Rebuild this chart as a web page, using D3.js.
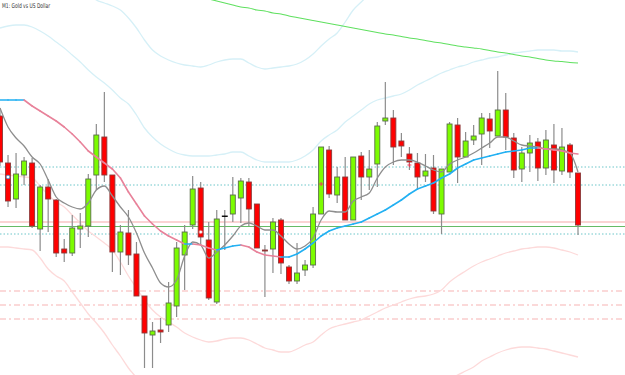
<!DOCTYPE html>
<html>
<head>
<meta charset="utf-8">
<script src="https://cdn.jsdelivr.net/npm/d3@7"></script>
<style>
body { margin: 0; background: #fff; }
svg { display: block; }
</style>
</head>
<body>
<svg id="chart" width="625" height="375"></svg>
<script>
// M1: Gold vs US Dollar - 73 one minute bars, price in chart units (bottom = 0)
var opens  = [259,212,176,200,212,146,188,175,126,122,146,149,200,238,200,123,142,121,79,40,45,50,69,120,150,187,135,73,159,161,177,193,171,125,126,155,108,94,105,110,161,225,180,198,155,219,198,211,254,257,234,221,212,199,207,161,203,250,218,235,241,256,239,265,237,206,222,233,207,230,204,230,202];
var highs  = [267,220,222,218,217,190,196,176,136,160,162,201,251,283,200,150,165,133,79,53,57,93,133,150,199,193,153,165,165,198,197,197,171,130,157,157,110,132,115,168,228,229,208,218,218,223,225,253,293,265,242,228,222,221,220,206,253,257,243,250,262,262,304,282,242,228,240,237,245,251,247,232,202];
var lows   = [209,168,167,190,147,124,143,118,113,119,127,138,185,193,103,100,110,79,7,7,32,43,58,85,146,130,75,71,125,153,152,149,127,78,102,101,91,91,99,107,161,177,172,155,155,175,185,188,250,210,218,205,185,193,161,141,203,192,218,230,210,227,239,225,197,193,203,194,200,192,200,197,140];
var closes = [213,174,201,214,149,188,176,122,122,147,149,196,240,200,123,143,120,79,42,44,43,72,127,143,186,138,77,156,159,180,194,166,127,124,153,112,94,102,110,161,228,181,198,155,218,198,206,249,257,228,229,213,198,204,164,206,251,218,234,239,257,244,265,238,205,222,232,207,235,205,228,203,150];

// fast moving average (grey)
var fastMA = [267,248,237,229,218,211,195,178,172,168,
              166,172,185,189,179,168,158,142,122,107,
              92,88,95,119,133,130,117,123,130,139,
              149,152,149,145,145,139,131,126,129,137,
              155,164,163,163,174,178,182,197,208,213,
              215,215,213,209,205,203,211,215,218,222,
              227,232,238,238,234,230,229,228,226,226,
              225,222,203];

// band middle line (blue when rising, pink when falling)
var midBand = [275,275,275,275,269,264,259,254,248,241,
               233,224,218,212,206,197,183,171,159,151,
               144,139,135,131,131,130,127,125,127,129,
               130,128,123,120,119,118,118,121,126,132,
               139,144,147,149,151,153,157,161,165,170,
               175,181,186,189,192,197,201,207,211,215,
               217,219,221,223,224,225,227,227,226,225,
               224,222,221];

var upperBand = [347,349,350,350,348,344,339,333,327,320,
                 313,305,298,292,285,277,271,260,247,238,
                 231,226,222,220,219,219,219,220,221,223,
                 223,219,215,213,213,213,213,215,219,225,
                 234,240,245,253,259,265,271,275,277,279,
                 281,285,290,294,298,302,305,308,310,313,
                 315,317,318,320,322,323,324,325,325,325,
                 324,324,323];

var lowerBand = [201,200,199,198,197,189,180,173,168,160,
                 152,144,138,132,125,113,99,87,75,65,
                 58,53,48,42,38,35,33,34,36,37,
                 37,35,31,27,25,23,23,26,30,33,
                 40,46,49,51,53,55,59,63,67,70,
                 73,76,78,79,81,85,93,99,104,109,
                 113,116,119,122,124,126,127,128,128,127,
                 125,123,120];

// outer bands, only the parts inside the window
var outerUpper = [421,424,426,426,422,415,410,405,400,395,
                  391,383,375,372,369,365,357,347,335,325,
                  319,315,312,310,309,308,310,313,315,316,
                  316,312,308,306,307,308,309,311,315,321,
                  329,336,342,353,365,373,381];
var outerLowerLeft = [128,128,127,126,125,117,106,99,94,83,72,61,52,42,30,19,7,-3,-17];
var outerLowerRightStart = 56;
var outerLowerRight = [-5,0,4,8,14,18,22,25,27,28,28,27,26,24,22,20,18];

// slow moving average (green), from bar 24
var slowMAStart = 24;
var slowMA = [380,378,376,374,372,370,368,367,365,364,362,361,359,357.5,356,354.5,353,351.5,350,348.5,
              347,345.5,344,342.5,341,340,338.5,337,336,334.5,333,332,330.5,329,328,327,326,324.5,323,322,
              320.5,319,318,316.5,315,314,313.5,312.5,312];

// horizontal levels
var solidLevels = [153, 148.5];
var dottedLevels = [208, 190, 141];
var dashDotLevels = [84, 70, 56];

// trade marks: bar index, price
var markBars = [1, 25, 40, 51];
var markPrices = [198, 143, 191, 210];

var title = "M1: Gold vs US Dollar";

var width = 625, height = 375;
var svg = d3.select("#chart");

var x = d3.scaleLinear().domain([0, opens.length - 1]).range([0, 578]);
var y = d3.scaleLinear().domain([0, 375]).range([height, 0]);

// levels
svg.selectAll(".lvl-solid").data(solidLevels).enter().append("line")
    .attr("x1", 0).attr("x2", width)
    .attr("y1", function(d){ return y(d); }).attr("y2", function(d){ return y(d); })
    .attr("stroke", function(d, i){ return i == 0 ? "#f6a9a9" : "#66bb66"; })
    .attr("stroke-width", 1.2);

svg.selectAll(".lvl-dot").data(dottedLevels).enter().append("line")
    .attr("x1", 0).attr("x2", width)
    .attr("y1", function(d){ return y(d); }).attr("y2", function(d){ return y(d); })
    .attr("stroke", "#6cc6c9")
    .attr("stroke-dasharray", "1.5,2")
    .attr("stroke-width", 1);

svg.selectAll(".lvl-dd").data(dashDotLevels).enter().append("line")
    .attr("x1", 0).attr("x2", width)
    .attr("y1", function(d){ return y(d); }).attr("y2", function(d){ return y(d); })
    .attr("stroke", "#f7b3b3")
    .attr("stroke-dasharray", "6,3,2,3")
    .attr("stroke-width", 1.2);

var line = d3.line()
    .x(function(d){ return x(d[0]); })
    .y(function(d){ return y(d[1]); })
    .curve(d3.curveMonotoneX);

function series(arr, start) {
    return arr.map(function(v, i){ return [i + (start || 0), v]; });
}

function drawLine(pts, color, w) {
    svg.append("path")
        .attr("d", line(pts))
        .attr("fill", "none")
        .attr("stroke", color)
        .attr("stroke-width", w);
}

// bands
drawLine(series(outerUpper), "#d6f0f7", 1.3);
drawLine(series(upperBand), "#d6f0f7", 1.3);
drawLine(series(lowerBand), "#fddada", 1.3);
drawLine(series(outerLowerLeft), "#fddada", 1.3);
drawLine(series(outerLowerRight, outerLowerRightStart), "#fddada", 1.3);
drawLine(series(slowMA, slowMAStart), "#5fe05f", 1.1);

// candles
var bars = d3.range(opens.length);
var bw = 5;

svg.selectAll(".wick").data(bars).enter().append("line")
    .attr("x1", function(i){ return x(i); }).attr("x2", function(i){ return x(i); })
    .attr("y1", function(i){ return y(highs[i]); })
    .attr("y2", function(i){ return y(lows[i]); })
    .attr("stroke", "#8c8c8c")
    .attr("stroke-width", 1.2);

svg.selectAll(".body").data(bars).enter().append("rect")
    .attr("x", function(i){ return x(i) - bw / 2; })
    .attr("y", function(i){ return y(Math.max(opens[i], closes[i])); })
    .attr("width", bw)
    .attr("height", function(i){ return Math.max(0.5, Math.abs(y(opens[i]) - y(closes[i]))); })
    .attr("fill", function(i){
        if (closes[i] > opens[i]) return "#7cfc00";
        if (closes[i] < opens[i]) return "#ff0000";
        return "#000";
    })
    .attr("stroke", function(i){
        if (closes[i] == opens[i]) return "#000";
        return closes[i] > opens[i] ? "#5a6e4a" : "#8a3a3a";
    })
    .attr("stroke-width", 0.9);

// fast MA
drawLine(series(fastMA), "#8e8e8e", 1.3);

// middle band, coloured by slope
var segLine = d3.line()
    .x(function(d){ return x(d[0]); })
    .y(function(d){ return y(d[1]); });
for (var i = 0; i < midBand.length - 1; i++) {
    svg.append("path")
        .attr("d", segLine([[i, midBand[i]], [i + 1, midBand[i + 1]]]))
        .attr("fill", "none")
        .attr("stroke", midBand[i + 1] >= midBand[i] ? "#22b0f2" : "#e8829a")
        .attr("stroke-width", 1.6)
        .attr("stroke-linecap", "round");
}

// trade marks
markBars.forEach(function(b, k){
    var cx = x(b), cy = y(markPrices[k]);
    if (k < 2) {
        svg.append("circle").attr("cx", cx).attr("cy", cy).attr("r", 1.8)
            .attr("fill", "#fff")
            .attr("stroke", k == 0 ? "#3aa0e0" : "#e05050").attr("stroke-width", 0.8);
    } else {
        svg.append("path")
            .attr("d", "M" + (cx - 2) + "," + cy + "h4M" + cx + "," + (cy - 2) + "v4")
            .attr("stroke", "#e8405a").attr("stroke-width", 1);
    }
});

svg.append("text")
    .attr("x", 2)
    .attr("y", 8)
    .attr("font-family", "DejaVu Sans, sans-serif")
    .attr("font-size", 6.5)
    .attr("textLength", 48)
    .attr("lengthAdjust", "spacingAndGlyphs")
    .attr("fill", "#333")
    .text(title);
</script>
</body>
</html>
